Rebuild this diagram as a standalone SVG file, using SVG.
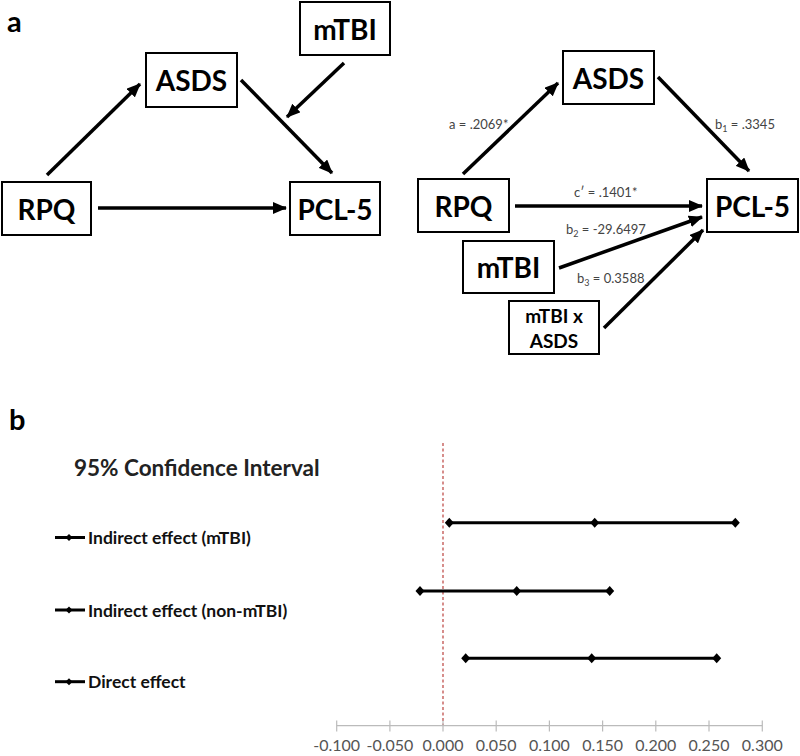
<svg xmlns="http://www.w3.org/2000/svg" width="800" height="756" viewBox="0 0 800 756">
<defs>
<marker id="ah" markerUnits="userSpaceOnUse" markerWidth="14" markerHeight="12" refX="13" refY="6" orient="auto">
<path d="M0,0 L14,6 L0,12 z" fill="#000"/>
</marker>
<path id="dm" d="M0,-5 L4.5,0 L0,5 L-4.5,0 z" fill="#000"/>
<path id="dms" d="M0,-3.5 L3.5,0 L0,3.5 L-3.5,0 z" fill="#000"/>
</defs>
<style>
.box{fill:#fff;stroke:#000;stroke-width:2}
.big{font-family:Lato,"Liberation Sans",sans-serif;font-weight:bold;font-size:28px;fill:#000;text-anchor:middle;dominant-baseline:central}
.mid{font-family:Lato,"Liberation Sans",sans-serif;font-weight:bold;font-size:19px;fill:#000;text-anchor:middle}
.pl{font-family:Lato,"Liberation Sans",sans-serif;font-weight:bold;font-size:29px;fill:#000}
.arr{stroke:#000;stroke-width:3.5;fill:none;marker-end:url(#ah)}
.el{font-family:Lato,"Liberation Sans",sans-serif;font-size:13px;fill:#444}
.sub{font-size:9px}
.ci{stroke:#000;stroke-width:3;fill:none}
.lg{font-family:Lato,"Liberation Sans",sans-serif;font-weight:bold;font-size:17.5px;fill:#111}
.ax{font-family:Lato,"Liberation Sans",sans-serif;font-size:16px;fill:#555;text-anchor:middle}
.tk{stroke:#bbb;stroke-width:1.2}
</style>
<rect width="800" height="756" fill="#fff"/>
<text class="pl" x="7" y="32">a</text>
<text class="pl" x="9" y="430">b</text>

<g id="connectors">
<line class="arr" x1="47" y1="175" x2="140" y2="84"/>
<line class="arr" x1="241" y1="80" x2="332" y2="173"/>
<line class="arr" x1="344" y1="63" x2="287" y2="117"/>
<line class="arr" x1="98" y1="208" x2="286" y2="208"/>
<line class="arr" x1="463" y1="174" x2="558" y2="83"/>
<line class="arr" x1="658" y1="77" x2="749" y2="171"/>
<line class="arr" x1="515" y1="206" x2="702" y2="206"/>
<line class="arr" x1="559" y1="268" x2="702" y2="217"/>
<line class="arr" x1="604" y1="328" x2="703" y2="230"/>
</g>

<g id="left-mTBI"><rect class="box" x="300" y="2" width="90" height="53"/><text class="big" x="345" y="29">mTBI</text></g>
<g id="left-ASDS"><rect class="box" x="146" y="53" width="91" height="54"/><text class="big" x="191.5" y="80">ASDS</text></g>
<g id="left-RPQ"><rect class="box" x="2" y="182" width="89" height="53"/><text class="big" x="46.5" y="209">RPQ</text></g>
<g id="left-PCL5"><rect class="box" x="290" y="182" width="90" height="53"/><text class="big" x="335" y="209">PCL-5</text></g>

<g id="right-ASDS"><rect class="box" x="563" y="51" width="91" height="53"/><text class="big" x="608.5" y="78">ASDS</text></g>
<g id="right-RPQ"><rect class="box" x="418" y="179" width="91" height="53"/><text class="big" x="463.5" y="206">RPQ</text></g>
<g id="right-PCL5"><rect class="box" x="707" y="179" width="91" height="53"/><text class="big" x="752.5" y="206">PCL-5</text></g>
<g id="right-mTBI"><rect class="box" x="463" y="241" width="91" height="52"/><text class="big" x="508.5" y="267">mTBI</text></g>
<g id="right-mTBIxASDS"><rect class="box" x="509" y="301" width="90" height="53"/><text class="mid" x="554" y="323">mTBI x</text><text class="mid" x="554" y="348">ASDS</text></g>

<g id="edge-labels">
<text class="el" x="449" y="129">a = .2069*</text>
<text class="el" x="715" y="129">b<tspan class="sub" dy="3">1</tspan><tspan dy="-3"> = .3345</tspan></text>
<text class="el" x="574" y="197">c′ = .1401*</text>
<text class="el" x="566" y="234">b<tspan class="sub" dy="3">2</tspan><tspan dy="-3"> = -29.6497</tspan></text>
<text class="el" x="577" y="283">b<tspan class="sub" dy="3">3</tspan><tspan dy="-3"> = 0.3588</tspan></text>
</g>

<g id="chart">
<text x="74" y="476" font-family="Lato,'Liberation Sans',sans-serif" font-weight="bold" font-size="22.5" fill="#222">95% Confidence Interval</text>
<line x1="443" y1="443" x2="443" y2="726" stroke="#c0504d" stroke-width="1.3" stroke-dasharray="3,2.5"/>
<line x1="336.7" y1="725.7" x2="762.3" y2="725.7" class="tk"/>
<g class="tk">
<line x1="336.7" y1="720.5" x2="336.7" y2="731.5"/>
<line x1="389.9" y1="720.5" x2="389.9" y2="731.5"/>
<line x1="443" y1="720.5" x2="443" y2="731.5"/>
<line x1="496.2" y1="720.5" x2="496.2" y2="731.5"/>
<line x1="549.4" y1="720.5" x2="549.4" y2="731.5"/>
<line x1="602.6" y1="720.5" x2="602.6" y2="731.5"/>
<line x1="655.8" y1="720.5" x2="655.8" y2="731.5"/>
<line x1="709" y1="720.5" x2="709" y2="731.5"/>
<line x1="762.3" y1="720.5" x2="762.3" y2="731.5"/>
</g>
<text class="ax" x="336.7" y="751">-0.100</text>
<text class="ax" x="389.9" y="751">-0.050</text>
<text class="ax" x="443" y="751">0.000</text>
<text class="ax" x="496.2" y="751">0.050</text>
<text class="ax" x="549.4" y="751">0.100</text>
<text class="ax" x="602.6" y="751">0.150</text>
<text class="ax" x="655.8" y="751">0.200</text>
<text class="ax" x="709" y="751">0.250</text>
<text class="ax" x="762.3" y="751">0.300</text>

<g id="ci-mTBI">
<line class="ci" x1="449.3" y1="522.7" x2="735.3" y2="522.7"/>
<use href="#dm" x="449.3" y="522.7"/><use href="#dm" x="594.7" y="522.7"/><use href="#dm" x="735.3" y="522.7"/>
</g>
<g id="ci-non-mTBI">
<line class="ci" x1="420" y1="591" x2="609.7" y2="591"/>
<use href="#dm" x="420" y="591"/><use href="#dm" x="516.7" y="591"/><use href="#dm" x="609.7" y="591"/>
</g>
<g id="ci-direct">
<line class="ci" x1="465.7" y1="658.3" x2="716.7" y2="658.3"/>
<use href="#dm" x="465.7" y="658.3"/><use href="#dm" x="591.7" y="658.3"/><use href="#dm" x="716.7" y="658.3"/>
</g>

<g id="legend">
<line class="ci" x1="55" y1="537.5" x2="85" y2="537.5"/><use href="#dms" x="69" y="537.5"/>
<text class="lg" x="88" y="544">Indirect effect (mTBI)</text>
<line class="ci" x1="55" y1="610" x2="85" y2="610"/><use href="#dms" x="69" y="610"/>
<text class="lg" x="88" y="616.5">Indirect effect (non-mTBI)</text>
<line class="ci" x1="55" y1="681.7" x2="85" y2="681.7"/><use href="#dms" x="69" y="681.7"/>
<text class="lg" x="88" y="688">Direct effect</text>
</g>
</g>
</svg>
